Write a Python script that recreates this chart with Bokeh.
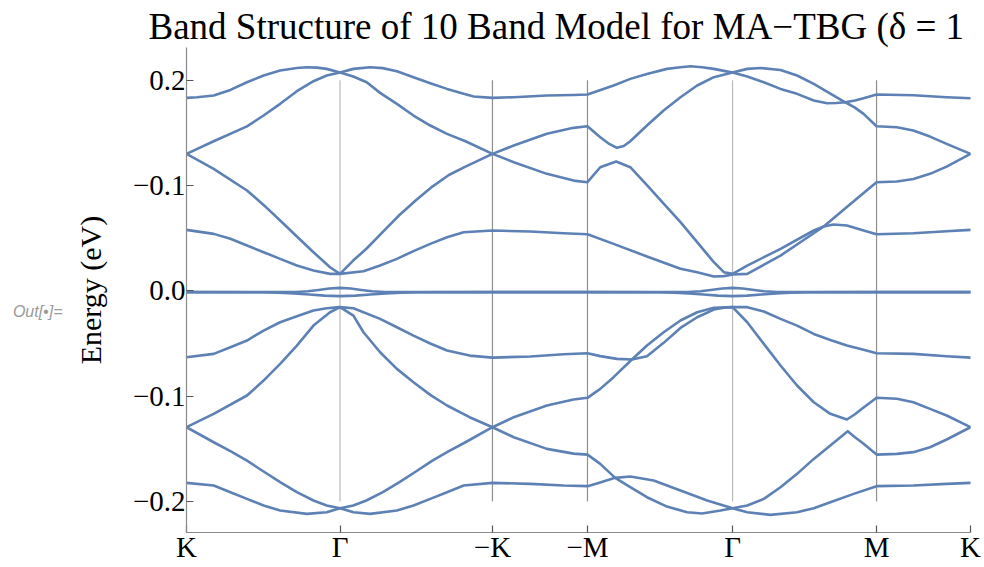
import numpy as np
from bokeh.plotting import figure
from bokeh.models import FixedTicker, LinearAxis
from bokeh.embed import file_html
from bokeh.resources import INLINE

# ---------------- data ----------------
K_LABELS = ["K", "Γ", "−K", "−M", "Γ", "M", "K"]
K_POS = [0.0, 1.0, 1.993, 2.612, 3.557, 4.495, 5.107]
Y_TICKS = [0.2, 0.1, 0.0, -0.1, -0.2]
Y_TICK_LABELS = ["0.2", "−0.1", "0.0", "−0.1", "−0.2"]
VLINE_SPAN = [-0.2, 0.2]

# each band: (path parameter s, energy eV); s = segment index + fraction along segment
BAND_1 = [(0, .1833), (.069, .1839), (.177, .1855), (.286, .1908), (.394, .1981), (.502, .2045),
          (.61, .2092), (.719, .2117), (.784, .2124), (.85, .2120), (.913, .2108), (1, .2073),
          (1.088, .2108), (1.197, .2124), (1.28, .2115), (1.373, .2086), (1.482, .2029),
          (1.592, .1972), (1.702, .1918), (1.811, .1871), (1.877, .1845), (2, .1833),
          (2.224, .1839), (2.573, .1855), (2.853, .1860), (3, .1864),
          (3.18, .1950), (3.295, .2013), (3.41, .2060), (3.548, .2108), (3.641, .2124),
          (3.71, .2133), (3.79, .2124), (3.871, .2108), (3.94, .2089), (4, .2073),
          (4.102, .2108), (4.194, .2117), (4.333, .2098), (4.448, .2045), (4.564, .1966),
          (4.679, .1874), (4.783, .1791), (4.85, .1807), (4.91, .1829), (5, .1864),
          (5.392, .1858), (5.746, .1839), (6, .1829)]
BAND_2 = [(0, .1301), (.177, .1421), (.394, .1562), (.502, .1665), (.61, .1776), (.719, .1896),
          (.827, .1991), (.913, .2045), (1, .2073),
          (1.087, .2035), (1.175, .1981), (1.263, .1880), (1.373, .1776), (1.482, .1665),
          (1.592, .1570), (1.702, .1491), (1.823, .1421), (2, .1301),
          (2.224, .1380), (2.573, .1491), (2.853, .1548), (3, .1563),
          (3.088, .1459), (3.15, .1395), (3.203, .1358), (3.25, .1375), (3.295, .1421),
          (3.41, .1570), (3.525, .1712), (3.641, .1839), (3.756, .1950), (3.871, .2029), (4, .2073),
          (4.102, .2035), (4.217, .1981), (4.333, .1918), (4.448, .1871), (4.564, .1807),
          (4.656, .1781), (4.72, .1784), (4.783, .1791), (4.85, .1740), (4.91, .1681), (5, .1563),
          (5.216, .1554), (5.392, .1522), (5.569, .1465), (5.746, .1396), (6, .1301)]
BAND_3 = [(0, .1301), (.177, .1158), (.394, .0953), (.502, .0816), (.61, .0668), (.719, .0516),
          (.827, .0367), (.935, .0224), (1, .0161),
          (1.088, .0290), (1.173, .0400), (1.281, .0560), (1.39, .0720), (1.498, .0860),
          (1.606, .0990), (1.714, .1100), (1.823, .1180), (2, .1301),
          (2.224, .1222), (2.573, .1111), (2.853, .1047), (3, .1032),
          (3.088, .1174), (3.198, .1228), (3.295, .1174), (3.41, .1003), (3.525, .0829),
          (3.641, .0652), (3.756, .0462), (3.871, .0272), (3.94, .0177), (4, .0161),
          (4.102, .0240), (4.333, .0399), (4.564, .0573), (4.633, .0611), (4.794, .0796),
          (4.91, .0929), (5, .1032),
          (5.216, .1038), (5.392, .1063), (5.569, .1111), (5.746, .1180), (6, .1301)]
BAND_4 = [(0, .0579), (.177, .0541), (.286, .0494), (.394, .0430), (.502, .0367), (.61, .0304),
          (.719, .0240), (.827, .0193), (.935, .0161), (1, .0161),
          (1.154, .0186), (1.263, .0240), (1.373, .0304), (1.482, .0377), (1.592, .0446),
          (1.702, .0509), (1.811, .0557), (2, .0573),
          (2.399, .0563), (2.748, .0547), (3, .0538),
          (3.18, .0446), (3.41, .0326), (3.641, .0209), (3.756, .0177), (3.871, .0136),
          (3.94, .0140), (4, .0155),
          (4.102, .0161), (4.333, .0335), (4.564, .0547), (4.633, .0611), (4.702, .0630),
          (4.794, .0620), (4.91, .0573), (5, .0538),
          (5.392, .0547), (5.746, .0566), (6, .0579)]
BAND_5 = [(0, -.0012), (.6, -.0012), (.71, -.0011), (.79, -.0004), (.86, .0008), (.93, .0022),
          (1, .0028), (1.07, .0022), (1.14, .0008), (1.21, -.0004), (1.29, -.0011), (1.4, -.0012),
          (2, -.0012), (3, -.0012), (3.6, -.0012), (3.69, -.0011), (3.78, -.0004), (3.85, .0008),
          (3.93, .0022), (4, .0028), (4.07, .0022), (4.15, .0008), (4.22, -.0004), (4.31, -.0011),
          (4.4, -.0012), (5, -.0012), (6, -.0012)]
BAND_6 = [(0, -.0012), (.5, -.0013), (.6, -.0018), (.7, -.0025), (.8, -.0035), (.9, -.0045),
          (1, -.0050), (1.1, -.0045), (1.2, -.0035), (1.3, -.0025), (1.4, -.0018), (1.5, -.0013),
          (2, -.0012), (3, -.0012), (3.5, -.0013), (3.6, -.0018), (3.7, -.0025), (3.8, -.0035),
          (3.9, -.0045), (4, -.0050), (4.1, -.0045), (4.2, -.0035), (4.3, -.0025), (4.4, -.0018),
          (4.5, -.0013), (5, -.0012), (6, -.0012)]
BAND_7 = [(0, -.0630), (.177, -.0599), (.286, -.0535), (.394, -.0472), (.502, -.0377), (.61, -.0298),
          (.719, -.0241), (.827, -.0187), (.913, -.0165), (1, -.0155),
          (1.088, -.0165), (1.263, -.0266), (1.373, -.0346), (1.482, -.0425), (1.592, -.0500),
          (1.702, -.0567), (1.85, -.0615), (2, -.0634),
          (2.399, -.0624), (2.748, -.0602), (3, -.0592),
          (3.088, -.0620), (3.203, -.0646), (3.306, -.0652), (3.41, -.0519), (3.525, -.0393),
          (3.641, -.0282), (3.756, -.0203), (3.871, -.0160), (4, -.0155),
          (4.102, -.0155), (4.217, -.0196), (4.333, -.0266), (4.448, -.0330), (4.564, -.0409),
          (4.679, -.0466), (4.794, -.0520), (4.91, -.0560), (5, -.0592),
          (5.392, -.0599), (5.746, -.0621), (6, -.0634)]
BAND_8 = [(0, -.1295), (.177, -.1168), (.394, -.0994), (.502, -.0852), (.61, -.0694), (.719, -.0520),
          (.827, -.0330), (.935, -.0203), (1, -.0155),
          (1.088, -.0235), (1.154, -.0393), (1.263, -.0583), (1.373, -.0741), (1.482, -.0868),
          (1.592, -.0988), (1.702, -.1089), (1.85, -.1200), (2, -.1295),
          (2.224, -.1200), (2.573, -.1089), (2.853, -.1032), (3, -.1016),
          (3.088, -.0931), (3.18, -.0820), (3.306, -.0652), (3.41, -.0621), (3.525, -.0494),
          (3.641, -.0352), (3.756, -.0251), (3.871, -.0178), (3.94, -.0160), (4, -.0155),
          (4.102, -.0298), (4.217, -.0504), (4.333, -.0709), (4.448, -.0899), (4.564, -.1058),
          (4.679, -.1168), (4.794, -.1222), (4.85, -.1172), (4.91, -.1108), (5, -.1016),
          (5.216, -.1025), (5.392, -.1058), (5.569, -.1121), (5.746, -.1184), (6, -.1295)]
BAND_9 = [(0, -.1295), (.177, -.1438), (.286, -.1523), (.394, -.1612), (.502, -.1716), (.61, -.1817),
          (.719, -.1912), (.827, -.1991), (.913, -.2039), (1, -.2064),
          (1.087, -.2039), (1.173, -.1991), (1.281, -.1912), (1.39, -.1817), (1.498, -.1716),
          (1.606, -.1612), (1.714, -.1523), (1.823, -.1438), (2, -.1295),
          (2.224, -.1390), (2.573, -.1501), (2.853, -.1546), (3, -.1555),
          (3.088, -.1643), (3.191, -.1776), (3.295, -.1763), (3.456, -.1802), (3.641, -.1897),
          (3.825, -.1991), (4, -.2064),
          (4.102, -.2039), (4.217, -.1976), (4.333, -.1865), (4.448, -.1738), (4.564, -.1596),
          (4.679, -.1469), (4.80, -.1333), (4.85, -.1390), (4.91, -.1453), (5, -.1555),
          (5.216, -.1548), (5.392, -.1532), (5.569, -.1485), (5.746, -.1412), (6, -.1295)]
BAND_10 = [(0, -.1824), (.177, -.1849), (.286, -.1912), (.394, -.1976), (.502, -.2039), (.61, -.2086),
           (.784, -.2118), (.913, -.2102), (1, -.2064),
           (1.088, -.2102), (1.197, -.2118), (1.373, -.2086), (1.482, -.2039), (1.592, -.1976),
           (1.702, -.1912), (1.811, -.1849), (2, -.1824),
           (2.399, -.1833), (2.748, -.1849), (3, -.1855),
           (3.065, -.1830), (3.191, -.1776), (3.295, -.1865), (3.41, -.1960), (3.548, -.2049),
           (3.687, -.2102), (3.79, -.2115), (3.917, -.2086), (4, -.2064),
           (4.102, -.2102), (4.263, -.2128), (4.448, -.2102), (4.564, -.2064), (4.679, -.2007),
           (4.841, -.1928), (5, -.1855),
           (5.392, -.1849), (5.746, -.1833), (6, -.1824)]
BANDS = [BAND_1, BAND_2, BAND_3, BAND_4, BAND_5, BAND_6, BAND_7, BAND_8, BAND_9, BAND_10]

TITLE = "Band Structure of 10 Band Model for MA−TBG (δ = 1"
Y_LABEL = "Energy (eV)"
OUT_LABEL = "Out[•]="

# ---------------- figure ----------------
BLUE = "#5E81B5"
SERIF = "Liberation Serif"

p = figure(width=984, height=567, x_range=(0, K_POS[-1]), y_range=(-0.2295, 0.2311),
           output_backend="svg", toolbar_location=None,
           min_border_left=186, min_border_right=14, min_border_top=47, min_border_bottom=35)
p.outline_line_color = None
p.grid.visible = False
p.background_fill_color = "white"
p.border_fill_color = "white"

p.title.text = TITLE
p.title.align = "left"
p.title.offset = -38
p.title.standoff = 2
p.title.text_font = SERIF
p.title.text_font_style = "normal"
p.title.text_font_size = "37px"
p.title.text_color = "black"

seg_idx = np.arange(len(K_POS))

# vertical lines at interior high-symmetry points
vk = K_POS[1:-1]
vcol = ["#b9b9b9" if lab == "Γ" else "#8f8f8f" for lab in K_LABELS[1:-1]]
p.segment(x0=vk, y0=[VLINE_SPAN[0]] * len(vk), x1=vk, y1=[VLINE_SPAN[1]] * len(vk),
          line_color=vcol, line_width=1.2)

for band in BANDS:
    pts = sorted(band)
    s = np.array([q[0] for q in pts])
    e = np.array([q[1] for q in pts])
    k = np.interp(s, seg_idx, K_POS)
    p.line(k, e, line_color=BLUE, line_width=2.6, line_join="round", line_cap="round")

# axes
for ax in (p.xaxis, p.yaxis):
    ax.axis_line_color = "#8a8a8a"
    ax.axis_line_width = 1.2
    ax.major_tick_line_color = "#555555"
    ax.major_tick_line_width = 1.2
    ax.major_tick_in = 7
    ax.major_tick_out = 0
    ax.minor_tick_in = 0
    ax.minor_tick_out = 0
    ax.major_label_text_font = SERIF
    ax.major_label_text_font_size = "29px"
    ax.major_label_text_color = "black"

p.xaxis.ticker = FixedTicker(ticks=K_POS)
p.xaxis.major_label_overrides = {float(k): lab for k, lab in zip(K_POS, K_LABELS)}
p.xaxis.major_label_standoff = -2
p.yaxis.ticker = FixedTicker(ticks=Y_TICKS)
p.yaxis.major_label_overrides = {float(v): lab for v, lab in zip(Y_TICKS, Y_TICK_LABELS)}
p.yaxis.major_label_standoff = 1
p.yaxis.axis_label = Y_LABEL
p.yaxis.axis_label_text_font = SERIF
p.yaxis.axis_label_text_font_style = "normal"
p.yaxis.axis_label_text_font_size = "30px"
p.yaxis.axis_label_text_color = "black"
p.yaxis.axis_label_standoff = 23

# notebook "Out" marker: an extra, line-less axis on the left carrying a single label
OUT_Y = -0.0197
out_axis = LinearAxis(ticker=FixedTicker(ticks=[OUT_Y]),
                      major_label_overrides={OUT_Y: OUT_LABEL},
                      axis_line_color=None, major_tick_line_color=None,
                      minor_tick_line_color=None, major_tick_in=0, major_tick_out=0,
                      minor_tick_in=0, minor_tick_out=0,
                      major_label_text_font="Liberation Sans",
                      major_label_text_font_style="italic",
                      major_label_text_font_size="16px",
                      major_label_text_color="#9a9a9a",
                      major_label_standoff=8)
p.add_layout(out_axis, "left")

open("out.html", "w").write(file_html(p, INLINE))
